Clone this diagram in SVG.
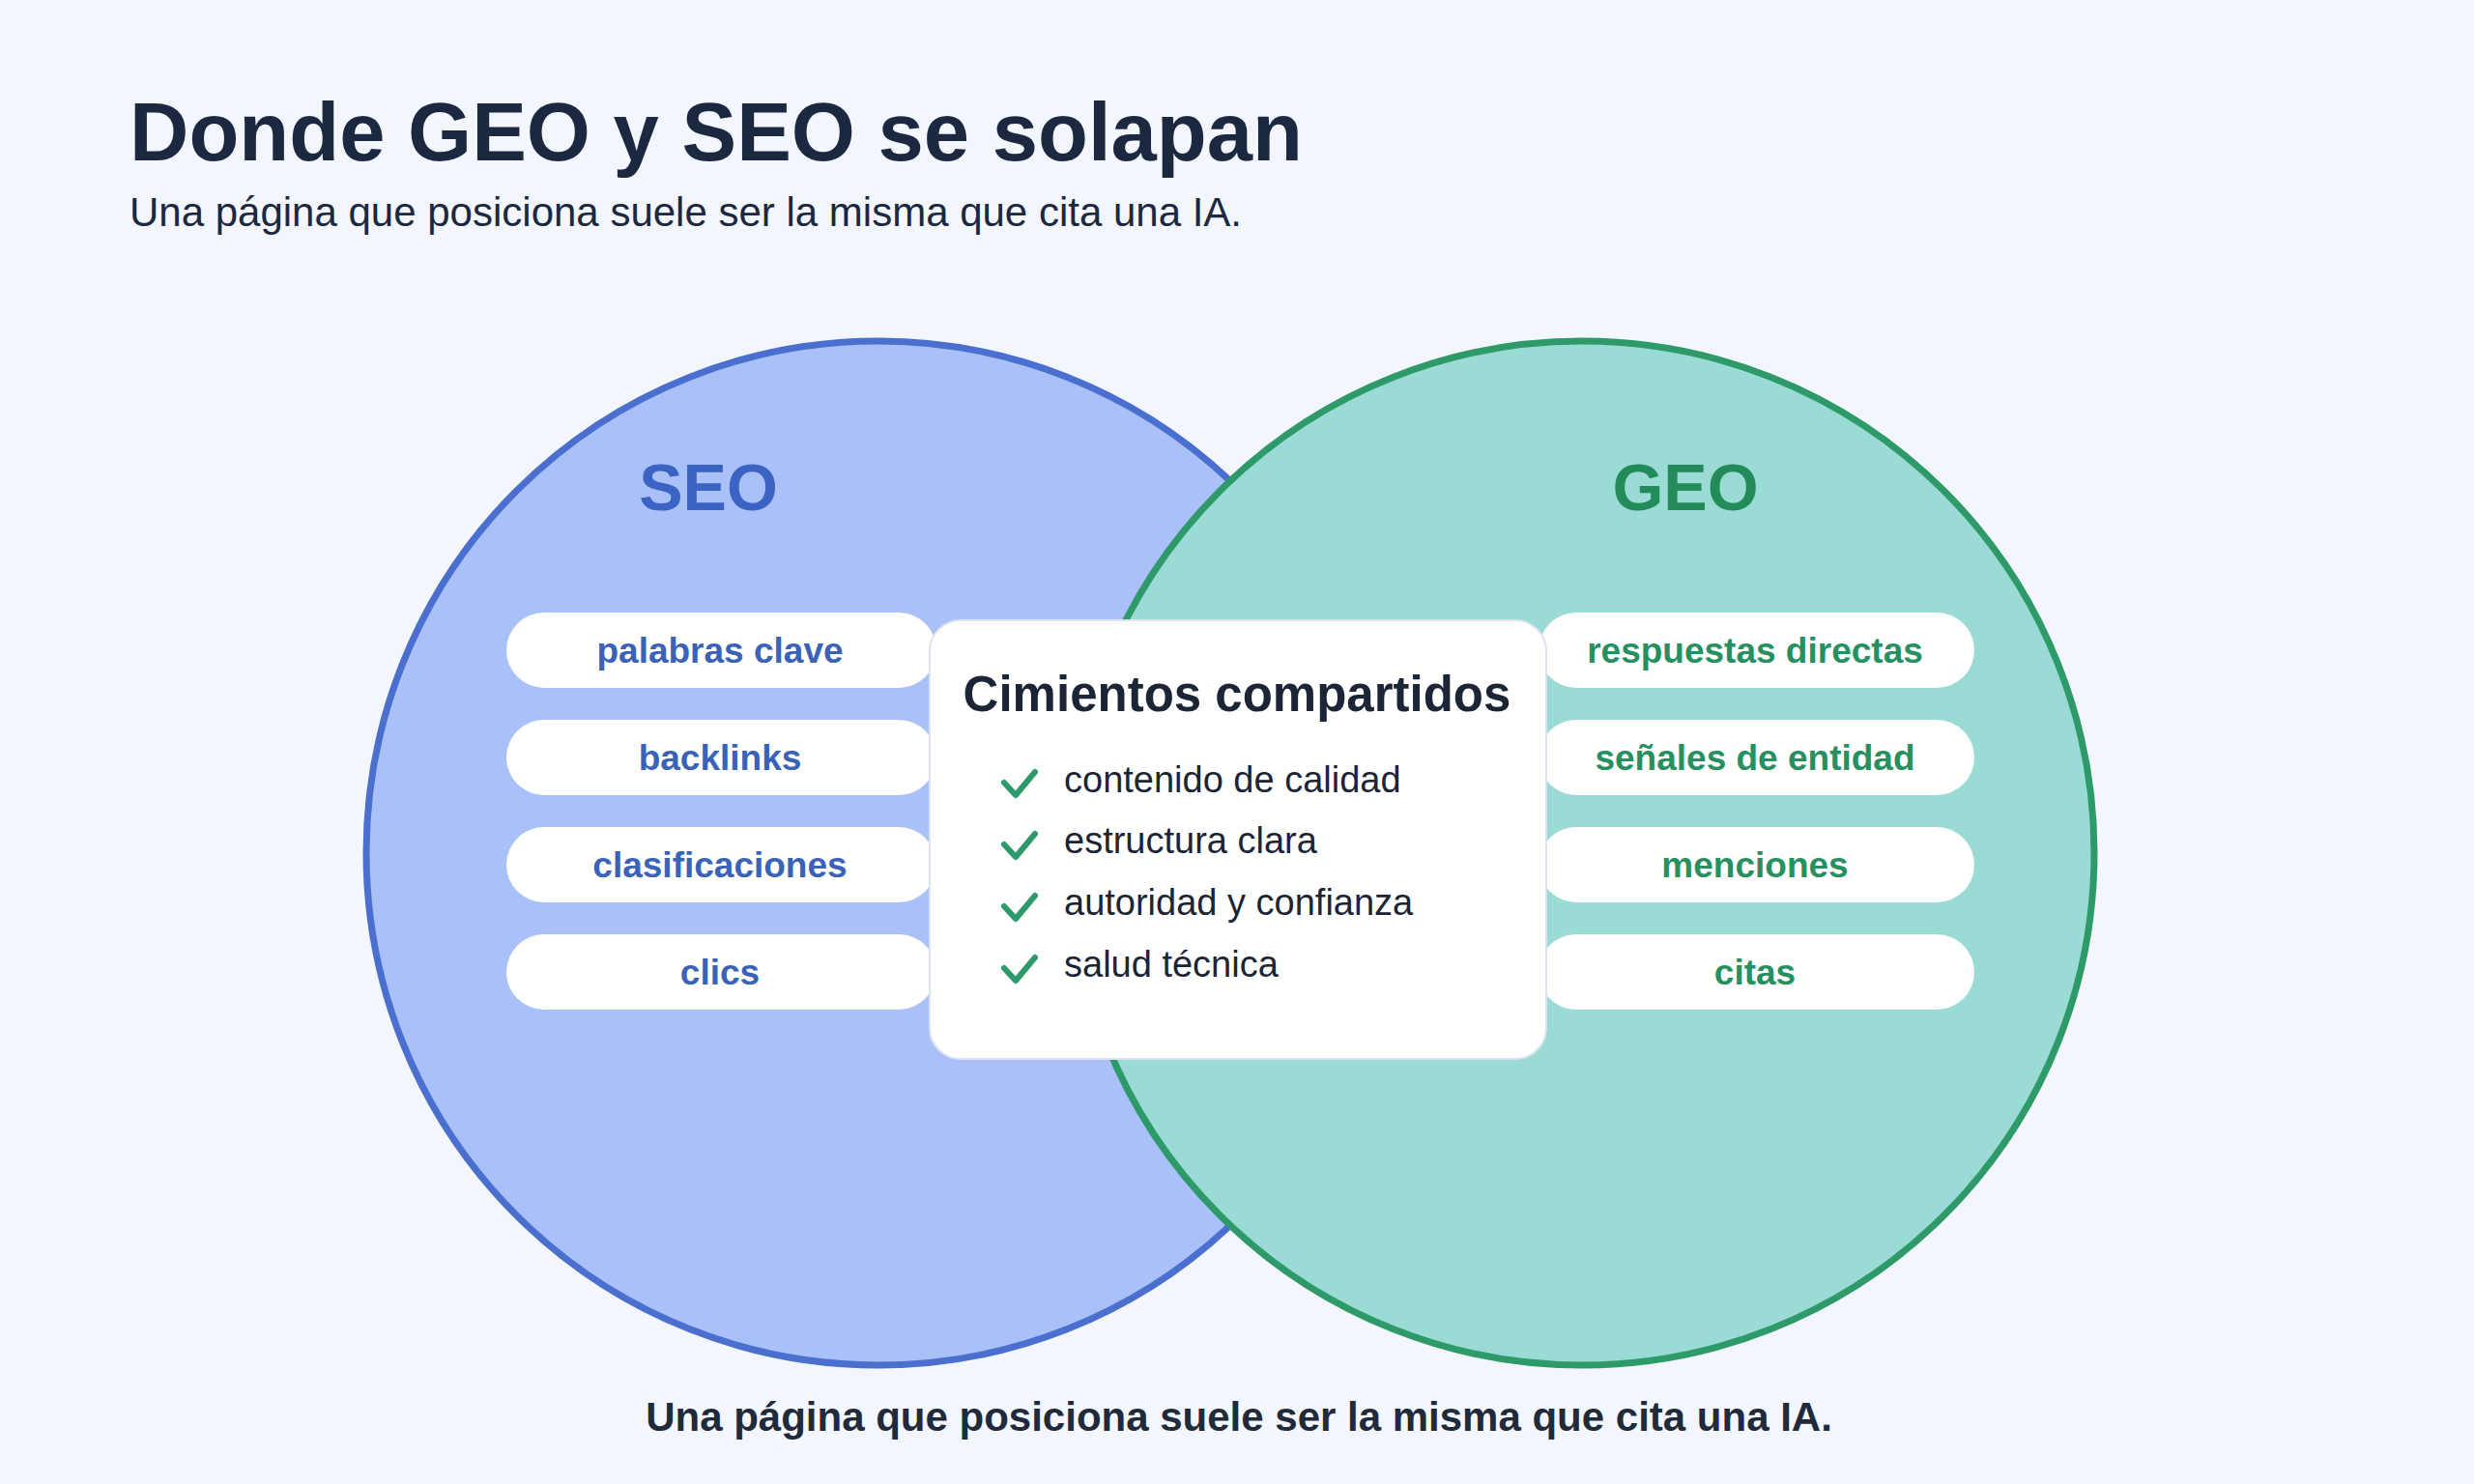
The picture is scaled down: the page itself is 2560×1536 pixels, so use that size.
<svg xmlns="http://www.w3.org/2000/svg" width="2560" height="1536" viewBox="0 0 2560 1536">
<style>
text{font-family:"Liberation Sans",Arial,sans-serif}
.pill{fill:#fff}
.ps{fill:#3a63b8;font-weight:bold;font-size:37px;text-anchor:middle}
.pg{fill:#279060;font-weight:bold;font-size:37px;text-anchor:middle}
.it{fill:#1b2535;font-size:38px}
.ck{fill:none;stroke:#2e9a6a;stroke-width:6;stroke-linecap:round;stroke-linejoin:round}
</style>
<rect width="2560" height="1536" fill="#f3f6fc"/>
<text x="134" y="166" font-size="85" font-weight="bold" fill="#1b2840">Donde GEO y SEO se solapan</text>
<text x="134" y="234" font-size="42" fill="#1b2840">Una página que posiciona suele ser la misma que cita una IA.</text>
<g id="seo">
<circle cx="909" cy="883" r="530" fill="#aac0f8" stroke="#4a6fcf" stroke-width="7"/>
<text x="733" y="528" font-size="68" font-weight="bold" fill="#3a63c4" text-anchor="middle">SEO</text>
</g>
<g id="geo">
<circle cx="1637" cy="883" r="530" fill="#9bdbd5" stroke="#2e9a6a" stroke-width="7"/>
<text x="1744" y="528" font-size="68" font-weight="bold" fill="#238a5a" text-anchor="middle">GEO</text>
</g>
<g id="seo-items">
<rect class="pill" x="524" y="634" width="445" height="78" rx="39"/><text class="ps" x="745" y="686">palabras clave</text>
<rect class="pill" x="524" y="745" width="445" height="78" rx="39"/><text class="ps" x="745" y="797">backlinks</text>
<rect class="pill" x="524" y="856" width="445" height="78" rx="39"/><text class="ps" x="745" y="908">clasificaciones</text>
<rect class="pill" x="524" y="967" width="445" height="78" rx="39"/><text class="ps" x="745" y="1019">clics</text>
</g>
<g id="geo-items">
<rect class="pill" x="1592" y="634" width="451" height="78" rx="39"/><text class="pg" x="1816" y="686">respuestas directas</text>
<rect class="pill" x="1592" y="745" width="451" height="78" rx="39"/><text class="pg" x="1816" y="797">señales de entidad</text>
<rect class="pill" x="1592" y="856" width="451" height="78" rx="39"/><text class="pg" x="1816" y="908">menciones</text>
<rect class="pill" x="1592" y="967" width="451" height="78" rx="39"/><text class="pg" x="1816" y="1019">citas</text>
</g>
<g id="shared">
<rect x="962" y="642" width="638" height="454" rx="32" fill="#fff" stroke="#dde3ee" stroke-width="2"/>
<text x="1280" y="736" font-size="51" font-weight="bold" fill="#1b2535" text-anchor="middle">Cimientos compartidos</text>
<path class="ck" d="M1039 810 l12 13 l20 -24"/><text class="it" x="1101" y="820">contenido de calidad</text>
<path class="ck" d="M1039 874 l12 13 l20 -24"/><text class="it" x="1101" y="883">estructura clara</text>
<path class="ck" d="M1039 938 l12 13 l20 -24"/><text class="it" x="1101" y="947">autoridad y confianza</text>
<path class="ck" d="M1039 1002 l12 13 l20 -24"/><text class="it" x="1101" y="1011">salud técnica</text>
</g>
<g id="connectors"/>
<text x="1282" y="1481" font-size="42" font-weight="bold" fill="#1f2a3a" text-anchor="middle">Una página que posiciona suele ser la misma que cita una IA.</text>
</svg>
